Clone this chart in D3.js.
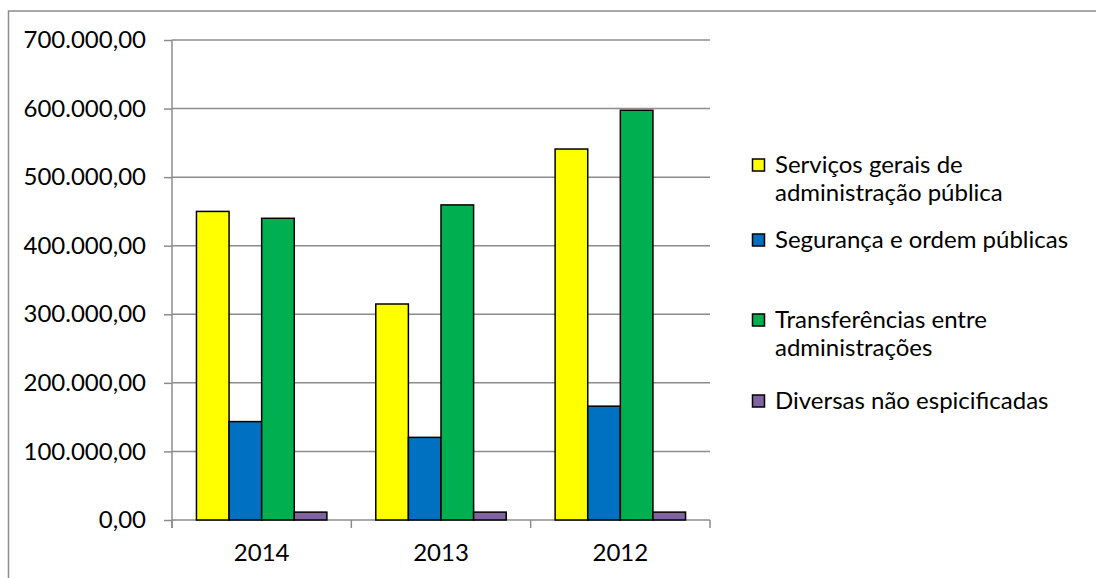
<!DOCTYPE html>
<html><head><meta charset="utf-8">
<script src="https://cdn.jsdelivr.net/npm/d3@7"></script>
<style>
html,body{margin:0;padding:0;background:#fff;overflow:hidden;}
svg{display:block;font-family:Lato,"Open Sans",sans-serif;}
</style></head>
<body>
<svg id="c" width="1096" height="578"></svg>
<script>
const categories = ["2014", "2013", "2012"];
const seriesNames = ["Serviços gerais de administração pública", "Segurança e ordem públicas", "Transferências entre administrações", "Diversas não espicificadas"];
const legendLines = [["Serviços gerais de", "administração pública"], ["Segurança e ordem públicas"], ["Transferências entre", "administrações"], ["Diversas não espicificadas"]];
const servicos = [450000, 315000, 541000];
const seguranca = [143500, 120500, 166000];
const transferencias = [440000, 459500, 597500];
const diversas = [11500, 11500, 11500];
const yTicks = [0, 100000, 200000, 300000, 400000, 500000, 600000, 700000];
const colors = ["#FFFF00", "#0070C0", "#00B050", "#8064A2"];

const seriesValues = [servicos, seguranca, transferencias, diversas];
const svg = d3.select("#c");
const fontSize = 24;
const ff = "Lato,'Open Sans',sans-serif";

// outer frame (top and left edges visible)
svg.append("path").attr("d", "M8.5,578 L8.5,11 L1096,11")
  .attr("fill", "none").attr("stroke", "#8c8c8c").attr("stroke-width", 1.5);

const x0 = d3.scaleBand().domain(categories).range([172, 710]).paddingInner(0).paddingOuter(0);
const x1 = d3.scaleBand().domain(d3.range(4)).range([0, x0.bandwidth()]).paddingInner(0).paddingOuter(0.75);
const y = d3.scaleLinear().domain([0, 700000]).range([520, 40]);

const fmt = v => d3.format(",.2f")(v).replace(/,/g, "#").replace(/\./g, ",").replace(/#/g, ".");

// y axis labels + tick marks
const yAxis = d3.axisLeft(y).tickValues(yTicks).tickSize(8).tickFormat(fmt).tickPadding(18);
const ga = svg.append("g").attr("transform", "translate(172,0)").call(yAxis);
ga.select(".domain").remove();
ga.selectAll(".tick line").attr("stroke", "#8c8c8c").attr("stroke-width", 1.5);
ga.selectAll(".tick text").attr("font-size", fontSize).attr("fill", "#000").attr("font-family", ff);
// gridlines
svg.append("g").selectAll("line").data(yTicks).join("line")
  .attr("x1", 172).attr("x2", 710).attr("y1", d => y(d)).attr("y2", d => y(d))
  .attr("stroke", "#8c8c8c").attr("stroke-width", 1.5);
svg.append("line").attr("x1", 172).attr("x2", 172).attr("y1", 40).attr("y2", 528)
  .attr("stroke", "#8c8c8c").attr("stroke-width", 1.5);

// x axis
const xAxis = d3.axisBottom(x0).tickSize(0).tickPadding(24);
const gx = svg.append("g").attr("transform", "translate(0,520)").call(xAxis);
gx.select(".domain").remove();
gx.selectAll(".tick text").attr("font-size", fontSize).attr("fill", "#000").attr("font-family", ff);
const bounds = categories.map(c => x0(c)).concat([x0.range()[1]]);
svg.append("g").selectAll("line").data(bounds).join("line")
  .attr("x1", d => d).attr("x2", d => d).attr("y1", 520).attr("y2", 528)
  .attr("stroke", "#8c8c8c").attr("stroke-width", 1.5);

// bars
const groups = svg.append("g").selectAll("g").data(categories).join("g")
  .attr("transform", c => `translate(${x0(c)},0)`);
groups.selectAll("rect").data((c, ci) => seriesValues.map((s, si) => ({si, v: s[ci]}))).join("rect")
  .attr("x", d => x1(d.si)).attr("width", x1.bandwidth())
  .attr("y", d => y(d.v)).attr("height", d => y(0) - y(d.v))
  .attr("fill", d => colors[d.si]).attr("stroke", "#000").attr("stroke-width", 1.5);

// legend
const legendBase = [173, 248, 328, 409];
const lg = svg.append("g");
legendLines.forEach((lines, i) => {
  lg.append("rect").attr("x", 752.5).attr("y", legendBase[i] - 14).attr("width", 12).attr("height", 12)
    .attr("fill", colors[i]).attr("stroke", "#000").attr("stroke-width", 1.5);
  lines.forEach((t, j) => {
    lg.append("text").attr("x", 775).attr("y", legendBase[i] + j * 28).attr("font-size", fontSize)
      .attr("font-family", ff).attr("fill", "#000").text(t);
  });
});
</script>
</body></html>
